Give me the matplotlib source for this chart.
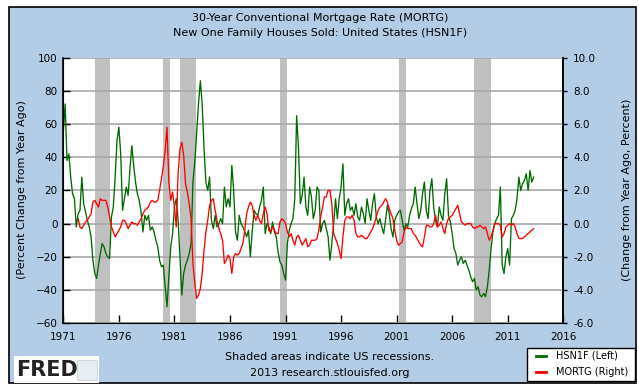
import numpy as np
import matplotlib
matplotlib.use("Agg")
import matplotlib.pyplot as plt
from matplotlib.patches import Rectangle

# ---------------- data (2-month steps, Jan 1971 .. May 2013) ----------------
start_year = 1971
hsn1f = [
    55, 72, 38, 42, 28, 18,        # 1971
    15, -2, 6, 8, 28, 12,          # 1972
    7, 2, -2, -8, -22, -30,        # 1973
    -33, -25, -18, -12, -14, -18,  # 1974
    -20, -21, 4, 10, 28, 50,       # 1975
    58, 42, 8, 15, 22, 17,         # 1976
    33, 47, 35, 25, 18, 14,        # 1977
    7, -5, 5, 2, 5, -4,            # 1978
    -2, -5, -10, -14, -22, -26,    # 1979
    -25, -38, -50, -32, -14, -6,   # 1980
    10, 15, 2, -20, -43, -30,      # 1981
    -25, -22, -18, -12, 25, 37,    # 1982
    55, 72, 86, 72, 45, 25,        # 1983
    20, 28, 2, -3, 5, -2,          # 1984
    0, 3, 0, 22, 10, 15,           # 1985
    10, 35, 20, -5, -10, 5,        # 1986
    0, -2, -5, -8, -4, -20,        # 1987
    -5, 8, 6, 5, 10, 14,           # 1988
    22, -6, 0, -2, -6, 1,          # 1989
    -5, -8, -17, -23, -25, -30,    # 1990
    -34, -12, -4, 0, 3, 15,        # 1991
    65, 45, 12, 17, 28, 10,        # 1992
    5, 22, 16, 3, 8, 22,           # 1993
    20, -5, 0, 2, -3, -8,          # 1994
    -22, -12, 0, 15, 3, 15,        # 1995
    22, 36, 5, 12, 15, 8,          # 1996
    10, 5, 12, 4, 2, 10,           # 1997
    6, 0, 15, 8, 2, 12,            # 1998
    18, 4, 0, 3, -2, -6,           # 1999
    2, 11, 6, -3, -8, 2,           # 2000
    5, 7, 8, 2, -4, 0,             # 2001
    -2, 5, 9, 12, 22, 12,          # 2002
    3, 8, 18, 25, 8, 3,            # 2003
    20, 27, 10, 2, -2, 10,         # 2004
    5, 2, 18, 27, 5, 1,            # 2005
    -6, -15, -18, -25, -22, -20,   # 2006
    -24, -22, -25, -28, -32, -35,  # 2007
    -33, -40, -38, -43, -44, -42,  # 2008
    -44, -38, -28, -15, -5, 0,     # 2009
    3, 5, 22, -25, -30, -20,       # 2010
    -15, -25, 3, 5, 8, 15,         # 2011
    28, 20, 24, 26, 30, 20,        # 2012
    32, 25, 28,                    # 2013
]
nan = float("nan")
mortg = [
    nan, nan, nan, nan, nan, nan,          # 1971
    nan, nan, 0.3, -0.2, -0.3, -0.1,       # 1972
    0.1, 0.2, 0.4, 0.6, 1.3, 1.4,          # 1973
    1.2, 1.0, 1.5, 1.4, 1.4, 1.4,          # 1974
    1.0, 0.4, -0.2, -0.5, -0.8, -0.6,      # 1975
    -0.4, -0.2, 0.2, 0.2, 0.0, -0.3,       # 1976
    -0.1, 0.1, 0.0, 0.0, -0.1, 0.1,        # 1977
    0.3, 0.6, 0.8, 0.9, 1.0, 1.3,          # 1978
    1.4, 1.3, 1.3, 1.4, 2.0, 2.7,          # 1979
    3.4, 4.4, 5.8, 2.5, 1.4, 1.9,          # 1980
    1.0, -0.2, 3.0, 4.5, 4.9, 4.1,         # 1981
    2.4, 1.9, 1.2, 0.3, -2.4, -3.6,        # 1982
    -4.5, -4.3, -3.9, -3.0, -1.6, -0.5,    # 1983
    0.2, 1.1, 1.4, 1.5, 0.8, 0.2,          # 1984
    -0.3, -0.6, -1.0, -2.4, -2.2, -1.9,    # 1985
    -2.1, -3.0, -2.0, -1.8, -1.9, -1.8,    # 1986
    -1.5, -1.2, -0.4, 0.6, 1.0, 1.3,       # 1987
    1.1, 0.5, 0.2, 0.5, 0.2, 0.0,          # 1988
    0.6, 1.0, 0.6, -0.4, -0.5, -0.2,       # 1989
    -0.4, -0.6, -0.6, 0.1, 0.3, 0.2,       # 1990
    0.0, -0.5, -0.8, -0.6, -1.0, -1.3,     # 1991
    -0.8, -0.7, -1.0, -1.3, -1.1, -0.9,    # 1992
    -1.4, -1.3, -1.0, -1.0, -1.0, -0.9,    # 1993
    -0.4, 0.4, 1.0, 1.6, 1.6, 2.0,         # 1994
    2.0, 1.2, -0.6, -0.9, -1.2, -1.6,      # 1995
    -2.1, -0.8, 0.2, 0.4, 0.4, 0.3,        # 1996
    0.5, 0.2, -0.6, -0.8, -0.8, -0.7,      # 1997
    -0.8, -0.9, -0.9, -0.7, -0.5, -0.3,    # 1998
    0.0, 0.4, 0.8, 1.0, 1.1, 1.3,          # 1999
    1.5, 1.3, 0.9, 0.6, 0.3, -0.4,         # 2000
    -1.0, -1.3, -1.2, -1.1, -0.5, -0.2,    # 2001
    -0.3, -0.3, -0.3, -0.6, -0.7, -0.9,    # 2002
    -1.1, -1.3, -1.4, -0.8, -0.1, -0.1,    # 2003
    -0.2, -0.2, 0.0, 0.5, -0.2, -0.1,      # 2004
    0.1, -0.3, -0.6, 0.0, 0.3, 0.4,        # 2005
    0.5, 0.7, 0.9, 1.1, 0.6, 0.1,          # 2006
    0.0, -0.1, 0.0, 0.0, 0.0, -0.2,        # 2007
    -0.3, -0.2, -0.2, -0.1, -0.2, -0.3,    # 2008
    -0.2, -0.6, -1.0, -0.8, -0.4, 0.0,     # 2009
    0.0, 0.0, -0.1, -0.8, -0.6, -0.2,      # 2010
    -0.1, 0.0, -0.1, 0.0, -0.2, -0.6,      # 2011
    -0.9, -0.9, -0.9, -0.8, -0.7, -0.6,    # 2012
    -0.5, -0.4, -0.3,                      # 2013
]
recessions = [(1973.83, 1975.17), (1980.0, 1980.58), (1981.5, 1982.92),
              (1990.5, 1991.17), (2001.17, 2001.83), (2007.92, 2009.5)]
year_ticks = list(range(1971, 2017, 5))
left_ticks = list(range(-60, 101, 20))
right_ticks = list(range(-6, 11, 2))

x = start_year + np.arange(len(hsn1f)) / 6.0

# ---------------- figure ----------------
W, H = 639, 389
fig = plt.figure(figsize=(W / 100, H / 100), dpi=100, facecolor="white")
BG = "#b4cde6"
fig.patches.append(Rectangle((9 / W, 1 - 383 / H), 627 / W, 376 / H,
                             transform=fig.transFigure, facecolor=BG,
                             edgecolor="black", linewidth=1.2, zorder=-10))

L, R, T, B = 63.3, 563.3, 57.5, 323.3
ax = fig.add_axes([L / W, 1 - B / H, (R - L) / W, (B - T) / H])
ax.set_facecolor("white")
for a, b in recessions:
    ax.axvspan(a, b, color="#c0c0c0", lw=0, zorder=1)
ax.set_xlim(1971, 2016)
ax.set_ylim(-60, 100)
ax.set_yticks(left_ticks)
ax.set_xticks(year_ticks)
ax.set_xticklabels([str(y) for y in year_ticks])
ax.yaxis.grid(True, color="#a8a8a8", lw=1.2, zorder=2)
ax.set_axisbelow(False)
ax.plot(x, hsn1f, color="#006a00", lw=0.95, zorder=3)
ax.tick_params(axis="y", direction="in", length=5, width=1, labelsize=7.5, pad=4)
ax.tick_params(axis="x", direction="in", length=6, width=1, labelsize=7.5, pad=6.5)
ax.spines["top"].set_visible(False)
for s in ("left", "bottom", "right"):
    ax.spines[s].set_linewidth(1.2)

ax2 = ax.twinx()
ax2.set_ylim(-6, 10)
ax2.set_yticks(right_ticks)
ax2.set_yticklabels([f"{v:.1f}" for v in right_ticks])
ax2.plot(x, mortg, color="#ff0000", lw=0.95, zorder=4)
ax2.tick_params(axis="y", direction="out", length=3, width=1, labelsize=7.5, pad=4)
ax2.spines["top"].set_visible(False)
ax2.spines["right"].set_linewidth(1.2)

# titles and labels
fig.text(320 / W, 1 - 18 / H, "30-Year Conventional Mortgage Rate (MORTG)",
         ha="center", va="center", fontsize=8)
fig.text(320 / W, 1 - 33 / H, "New One Family Houses Sold: United States (HSN1F)",
         ha="center", va="center", fontsize=8)
fig.text(22 / W, 1 - 190 / H, "(Percent Change from Year Ago)", rotation=90,
         ha="center", va="center", fontsize=8)
fig.text(627 / W, 1 - 190 / H, "(Change from Year Ago, Percent)", rotation=90,
         ha="center", va="center", fontsize=8)
fig.text(330 / W, 1 - 357 / H, "Shaded areas indicate US recessions.",
         ha="center", va="center", fontsize=8)
fig.text(330 / W, 1 - 373 / H, "2013 research.stlouisfed.org",
         ha="center", va="center", fontsize=8)

# legend box
fig.patches.append(Rectangle((527 / W, 1 - 381 / H), 108 / W, 33 / H,
                             transform=fig.transFigure, facecolor="white",
                             edgecolor="black", linewidth=1.0, zorder=5))
fig.lines.append(plt.Line2D([536 / W, 546 / W], [1 - 356 / H] * 2,
                            transform=fig.transFigure, color="#006a00", lw=2, zorder=6))
fig.lines.append(plt.Line2D([536 / W, 546 / W], [1 - 372 / H] * 2,
                            transform=fig.transFigure, color="#ff0000", lw=2, zorder=6))
fig.text(556 / W, 1 - 356 / H, "HSN1F (Left)", ha="left", va="center", fontsize=7, zorder=6)
fig.text(556 / W, 1 - 372 / H, "MORTG (Right)", ha="left", va="center", fontsize=7, zorder=6)

# FRED logo
fig.patches.append(Rectangle((14 / W, 1 - 383 / H), 85 / W, 27 / H,
                             transform=fig.transFigure, facecolor="white",
                             edgecolor="none", zorder=5))
fig.text(16 / W, 1 - 370 / H, "FRED", ha="left", va="center", fontsize=15,
         fontweight="bold", color="#222222", zorder=6)
fig.patches.append(Rectangle((77 / W, 1 - 380 / H), 20 / W, 20 / H,
                             transform=fig.transFigure, facecolor="#e6eef4",
                             edgecolor="#c8d4dc", linewidth=0.6, zorder=6))

fig.savefig("out.png", dpi=100, facecolor="white")
